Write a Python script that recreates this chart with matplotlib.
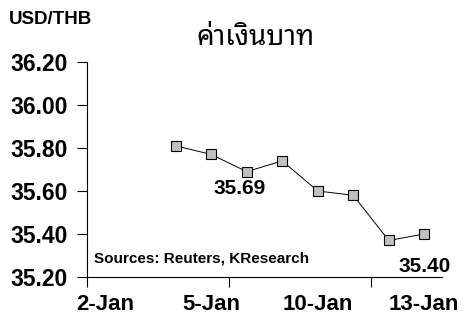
import matplotlib
matplotlib.use("Agg")
import matplotlib.pyplot as plt

categories = ['2-Jan', '3-Jan', '4-Jan', '5-Jan', '6-Jan', '9-Jan', '10-Jan', '11-Jan', '12-Jan', '13-Jan']
values = [None, None, 35.81, 35.77, 35.69, 35.74, 35.60, 35.58, 35.37, 35.40]
yticks = [35.20, 35.40, 35.60, 35.80, 36.00, 36.20]
label_cats = ['2-Jan', '5-Jan', '10-Jan', '13-Jan']

plt.rcParams['font.family'] = ['Liberation Sans', 'DejaVu Sans']

fig = plt.figure(figsize=(4.69, 3.35), dpi=100)
ax = fig.add_axes([87/469, 1 - 277/335, (442 - 87)/469, (277 - 62)/335])

xs = [i for i, v in enumerate(values) if v is not None]
ys = [v for v in values if v is not None]
ax.plot(xs, ys, color='black', lw=0.7, marker='s', markersize=7,
        markerfacecolor='#C0C0C0', markeredgecolor='black', markeredgewidth=0.8, zorder=3)

ax.set_xlim(-0.5, len(categories) - 0.5)
ax.set_ylim(yticks[0], yticks[-1])

ax.set_yticks(yticks)
ax.set_yticklabels([f"{t:.2f}" for t in yticks], fontsize=16.5, fontweight='bold')
ax.tick_params(axis='y', direction='out', length=7, width=0.8, pad=7)

ax.set_xticks([-0.5, 3.5, 7.5])
ax.set_xticklabels([])
label_pos = [categories.index(c) for c in label_cats]
ax.set_xticks(label_pos, minor=True)
ax.set_xticklabels(label_cats, minor=True, fontsize=16, fontweight='bold')
ax.tick_params(axis='x', which='major', direction='out', length=7, width=0.8)
ax.tick_params(axis='x', which='minor', length=0, pad=12)

for s in ['top', 'right']:
    ax.spines[s].set_visible(False)
for s in ['left', 'bottom']:
    ax.spines[s].set_linewidth(0.8)
ax.set_facecolor('white')

i_min = values.index(35.69)
ax.text(i_min - 0.2, 35.61, f"{values[i_min]:.2f}", ha='center', va='center',
        fontsize=15, fontweight='bold')
ax.text(len(categories) - 1, 35.247, f"{values[-1]:.2f}", ha='center', va='center',
        fontsize=15, fontweight='bold')
ax.text(-0.3, 35.288, "Sources: Reuters, KResearch", ha='left', va='center',
        fontsize=11, fontweight='bold')

fig.text(9/469, 1 - 20/335, "USD/THB", ha='left', va='center', fontsize=13.5, fontweight='bold')
fig.text(255/469, 1 - 38/335, "ค่าเงินบาท", ha='center', va='center', fontsize=20,
         family=['Noto Sans Thai Looped', 'DejaVu Sans'], fontweight='medium')

fig.savefig("out.png", dpi=100)
